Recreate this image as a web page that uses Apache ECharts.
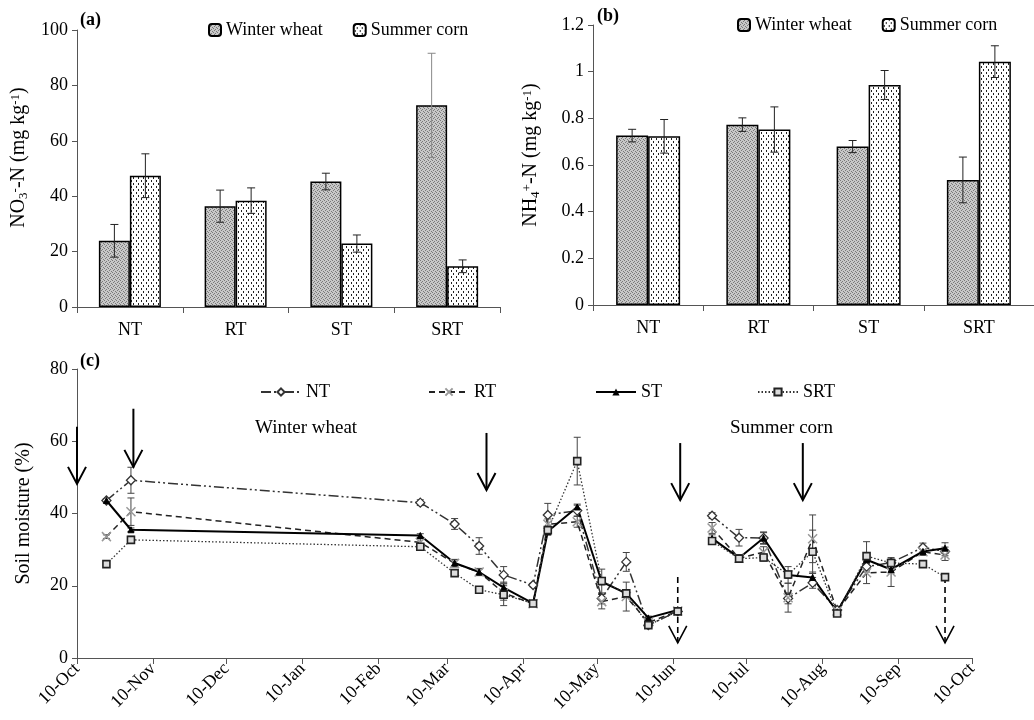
<!DOCTYPE html>
<html>
<head>
<meta charset="utf-8">
<title>Soil N and moisture</title>
<script src="https://cdn.jsdelivr.net/npm/echarts@6/dist/echarts.min.js"></script>
<style>
  html, body { margin: 0; padding: 0; background: #fff; }
  #main { width: 1034px; height: 720px; }
</style>
</head>
<body>
<div id="main"></div>
<script>
// ---- data (a), (b) ----
var treatments = ['NT', 'RT', 'ST', 'SRT'];
var no3Wheat = [23.9, 36.4, 45.3, 72.8];
var no3WheatErr = [5.9, 5.8, 3.0, 18.8];
var no3Corn = [47.4, 38.4, 22.9, 14.7];
var no3CornErr = [7.9, 4.6, 3.1, 2.3];
var nh4Wheat = [0.726, 0.773, 0.679, 0.536];
var nh4WheatErr = [0.027, 0.029, 0.026, 0.098];
var nh4Corn = [0.723, 0.752, 0.943, 1.043];
var nh4CornErr = [0.072, 0.097, 0.062, 0.068];

// ---- data (c): days counted from 10-Oct ----
var dateTickDays = [0, 31, 61, 92, 123, 151, 182, 212, 243, 273, 304, 335, 365];
var dateTickLabels = ['10-Oct', '10-Nov', '10-Dec', '10-Jan', '10-Feb', '10-Mar', '10-Apr',
  '10-May', '10-Jun', '10-Jul', '10-Aug', '10-Sep', '10-Oct'];
var sampleDays = [12, 22, 140, 154, 164, 174, 186, 192, 204, 214, 224, 233, 245,
  259, 270, 280, 290, 300, 310, 322, 332, 345, 354];
var wheatCount = 13; // first 13 samples = winter wheat, rest = summer corn
var moistNT  = [43.6, 49.2, 43.0, 37.1, 31.0, 23.0, 20.2, 39.6, 40.8, 16.5, 26.6, 9.1, 12.9,
  39.4, 33.3, 33.2, 16.5, 20.8, 13.3, 25.3, 26.4, 30.6, 29.5];
var moistRT  = [33.6, 40.5, 32.0, 26.2, 23.8, 18.0, 15.0, 37.0, 37.7, 15.6, 17.0, 9.8, 13.0,
  36.0, 27.6, 29.3, 16.7, 33.0, 13.0, 23.6, 23.8, 29.4, 28.5];
var moistST  = [43.6, 35.5, 33.9, 26.3, 23.8, 19.5, 15.1, 35.0, 41.8, 21.1, 17.9, 11.1, 13.3,
  33.1, 27.7, 33.2, 23.0, 22.3, 12.8, 27.2, 24.5, 29.5, 30.4];
var moistSRT = [26.0, 32.7, 30.8, 23.5, 18.9, 17.5, 15.1, 35.4, 54.5, 21.3, 17.9, 9.1, 12.9,
  32.4, 27.5, 27.8, 23.1, 29.4, 12.3, 28.2, 26.3, 26.0, 22.4];
var errNT  = [0.5, 3.6, 0.8, 1.5, 2.3, 2.3, 0.5, 3.2, 1.5, 1.5, 2.6, 0.8, 0.5,
  0.8, 2.3, 1.5, 1.5, 1.5, 1.0, 1.5, 1.0, 1.2, 1.2];
var errRT  = [0.5, 3.8, 1.0, 1.0, 1.0, 2.0, 0.5, 1.5, 1.5, 2.0, 4.0, 1.0, 0.5,
  1.5, 1.0, 1.5, 4.0, 6.6, 1.0, 3.0, 4.0, 1.0, 1.5];
var errST  = [0.5, 0.5, 0.5, 1.0, 0.8, 1.5, 0.5, 1.0, 0.8, 3.5, 1.0, 0.5, 0.5,
  1.0, 0.8, 1.7, 2.3, 1.5, 1.0, 1.0, 1.0, 1.0, 1.5];
var errSRT = [0.5, 1.0, 0.5, 0.6, 0.5, 3.0, 0.5, 1.0, 6.6, 1.0, 1.0, 0.5, 0.5,
  0.8, 1.0, 1.0, 1.0, 6.0, 0.8, 4.0, 1.0, 0.5, 0.5];

// arrows: [day, from, to]
var tillageArrows = [[0, 64, 48.2], [23, 69, 52.9], [167, 62.3, 46.5], [246, 59.5, 43.7], [296, 59.5, 43.7]];
var harvestArrows = [[245, 22.4, 4.2], [354, 22.4, 4.2]];

var FONT = 'Liberation Serif';

function makePattern(w, h, bg, fg, pts) {
  var c = document.createElement('canvas');
  c.width = w; c.height = h;
  var ctx = c.getContext('2d');
  ctx.fillStyle = bg;
  ctx.fillRect(0, 0, w, h);
  ctx.fillStyle = fg;
  pts.forEach(function (p) { ctx.fillRect(p[0], p[1], p[2], p[3]); });
  return c;
}
var wheatFill = { image: makePattern(4, 4, '#c8c8c8', '#7a7a7a', [[0, 0, 1, 1], [2, 1, 1, 1], [1, 2, 1, 1], [3, 3, 1, 1]]), repeat: 'repeat' };
var cornFill = { image: makePattern(5, 6, '#ffffff', '#222222', [[1, 0, 1, 2], [3, 3, 1, 2]]), repeat: 'repeat' };

function pairs(vals) {
  var out = [];
  for (var i = 0; i < vals.length; i++) {
    if (i === wheatCount) out.push([250, '-']);
    out.push([sampleDays[i], vals[i]]);
  }
  return out;
}
function errData(vals, errs) {
  return vals.map(function (v, i) { return [sampleDays[i], v, errs[i]]; });
}

// error bar drawer, dx = horizontal shift in px
function errRender(dx, half, color) {
  return function (params, api) {
    var x = api.value(0), v = api.value(1), e = api.value(2);
    var hi = api.coord([x, v + e]), lo = api.coord([x, v - e]);
    var cx = hi[0] + dx;
    var st = { stroke: color, lineWidth: 1 };
    return {
      type: 'group',
      children: [
        { type: 'line', shape: { x1: cx, y1: hi[1], x2: cx, y2: lo[1] }, style: st },
        { type: 'line', shape: { x1: cx - half, y1: hi[1], x2: cx + half, y2: hi[1] }, style: st },
        { type: 'line', shape: { x1: cx - half, y1: lo[1], x2: cx + half, y2: lo[1] }, style: st }
      ]
    };
  };
}
function arrowRender(dash, width) {
  return function (params, api) {
    var p1 = api.coord([api.value(0), api.value(1)]);
    var p2 = api.coord([api.value(0), api.value(2)]);
    var st = { stroke: '#000', lineWidth: width, fill: null, lineDash: dash };
    return {
      type: 'group',
      children: [
        { type: 'line', shape: { x1: p1[0], y1: p1[1], x2: p2[0], y2: p2[1] }, style: st },
        { type: 'polyline', shape: { points: [[p2[0] - 9, p2[1] - 17], [p2[0], p2[1]], [p2[0] + 9, p2[1] - 17]] },
          style: { stroke: '#000', lineWidth: width, fill: null } }
      ]
    };
  };
}

var txt = { fontFamily: FONT, fontSize: 18, color: '#000' };
var axisLine = { lineStyle: { color: '#555', width: 1 } };
var richName = {
  a: { fontFamily: FONT, fontSize: 20, color: '#000', lineHeight: 26, verticalAlign: 'middle' },
  sub: { fontFamily: FONT, fontSize: 13, color: '#000', lineHeight: 26, verticalAlign: 'bottom', padding: [0, 0, 2, 0] },
  sup: { fontFamily: FONT, fontSize: 13, color: '#000', lineHeight: 26, verticalAlign: 'top', padding: [3, 0, 0, 0] }
};

function catAxis(gi) {
  return {
    type: 'category', gridIndex: gi, data: treatments,
    axisLine: axisLine,
    axisTick: { show: true, length: 6, lineStyle: { color: '#555' } },
    axisLabel: Object.assign({ margin: 14 }, txt)
  };
}

var option = {
  animation: false,
  backgroundColor: '#fff',
  grid: [
    { left: 77, top: 30, right: 534, bottom: 413 },
    { left: 593, top: 25, right: -8, bottom: 415 },
    { left: 77, top: 369, right: 62, bottom: 62 }
  ],
  legend: [
    { data: ['Winter wheat', 'Summer corn'], left: 203, top: 16, itemWidth: 12, itemHeight: 12, itemGap: 30, textStyle: txt },
    { data: ['Winter wheat', 'Summer corn'], left: 732, top: 11, itemWidth: 12, itemHeight: 12, itemGap: 30, textStyle: txt },
    { data: ['NT'], left: 255, top: 378, itemWidth: 40, itemHeight: 9, textStyle: txt },
    { data: ['RT'], left: 423, top: 378, itemWidth: 40, itemHeight: 9, textStyle: txt },
    { data: ['ST'], left: 590, top: 378, itemWidth: 40, itemHeight: 9, textStyle: txt },
    { data: ['SRT'], left: 752, top: 378, itemWidth: 40, itemHeight: 9, textStyle: txt }
  ],
  xAxis: [
    catAxis(0),
    catAxis(1),
    {
      type: 'value', gridIndex: 2, min: 0, max: 365,
      splitLine: { show: false },
      axisLine: axisLine,
      axisTick: { show: true, length: 6, customValues: dateTickDays, lineStyle: { color: '#555' } },
      axisLabel: Object.assign({
        rotate: 45, margin: 8, customValues: dateTickDays,
        formatter: function (v) { return dateTickLabels[dateTickDays.indexOf(v)]; }
      }, txt)
    }
  ],
  yAxis: [
    {
      type: 'value', gridIndex: 0, min: 0, max: 100, interval: 20,
      splitLine: { show: false }, axisLine: { show: true, lineStyle: { color: '#555' } },
      axisTick: { show: true, length: 5, lineStyle: { color: '#555' } },
      axisLabel: Object.assign({ margin: 9 }, txt),
      name: '{a|NO}{sub|3}{sup|-}{a|-N (mg kg}{sup|-1}{a|)}',
      nameLocation: 'middle', nameGap: 45, nameRotate: 90,
      nameTextStyle: { rich: richName, padding: [0, 0, 0, 22] }
    },
    {
      type: 'value', gridIndex: 1, min: 0, max: 1.2, interval: 0.2,
      splitLine: { show: false }, axisLine: { show: true, lineStyle: { color: '#555' } },
      axisTick: { show: true, length: 5, lineStyle: { color: '#555' } },
      axisLabel: Object.assign({ margin: 9 }, txt),
      name: '{a|NH}{sub|4}{sup|+}{a|-N (mg kg}{sup|-1}{a|)}',
      nameLocation: 'middle', nameGap: 49, nameRotate: 90,
      nameTextStyle: { rich: richName, padding: [0, 0, 0, 20] }
    },
    {
      type: 'value', gridIndex: 2, min: 0, max: 80, interval: 20,
      splitLine: { show: false }, axisLine: { show: true, lineStyle: { color: '#555' } },
      axisTick: { show: true, length: 5, lineStyle: { color: '#555' } },
      axisLabel: Object.assign({ margin: 9 }, txt),
      name: 'Soil moisture (%)',
      nameLocation: 'middle', nameGap: 43, nameRotate: 90,
      nameTextStyle: { fontFamily: FONT, fontSize: 20, color: '#000' }
    }
  ],
  graphic: [
    { type: 'text', left: 80, top: 11, style: { text: '(a)', fontFamily: FONT, fontSize: 18, fontWeight: 'bold', fill: '#000' } },
    { type: 'text', left: 597, top: 7, style: { text: '(b)', fontFamily: FONT, fontSize: 18, fontWeight: 'bold', fill: '#000' } },
    { type: 'text', left: 80, top: 352, style: { text: '(c)', fontFamily: FONT, fontSize: 18, fontWeight: 'bold', fill: '#000' } },
    { type: 'text', left: 255, top: 419, style: { text: 'Winter wheat', fontFamily: FONT, fontSize: 19, fill: '#000' } },
    { type: 'text', left: 730, top: 419, style: { text: 'Summer corn', fontFamily: FONT, fontSize: 19, fill: '#000' } }
  ],
  series: [
    // (a)
    { name: 'Winter wheat', type: 'bar', xAxisIndex: 0, yAxisIndex: 0, data: no3Wheat, barWidth: 31, barGap: '0%',
      itemStyle: { color: wheatFill, borderColor: '#000', borderWidth: 1.5 } },
    { name: 'Summer corn', type: 'bar', xAxisIndex: 0, yAxisIndex: 0, data: no3Corn, barWidth: 31, barGap: '0%',
      itemStyle: { color: cornFill, borderColor: '#000', borderWidth: 1.5 } },
    { type: 'custom', name: 'errA1', xAxisIndex: 0, yAxisIndex: 0, z: 5,
      data: no3Wheat.map(function (v, i) { return [i, v, no3WheatErr[i]]; }),
      renderItem: function (p, api) { return errRender(-15.5, 4, api.value(0) === 3 ? '#888' : '#222')(p, api); } },
    { type: 'custom', name: 'errA2', xAxisIndex: 0, yAxisIndex: 0, z: 5,
      data: no3Corn.map(function (v, i) { return [i, v, no3CornErr[i]]; }),
      renderItem: errRender(15.5, 4, '#222') },
    // (b)
    { name: 'Winter wheat', type: 'bar', xAxisIndex: 1, yAxisIndex: 1, data: nh4Wheat, barWidth: 32, barGap: '0%',
      itemStyle: { color: wheatFill, borderColor: '#000', borderWidth: 1.5 } },
    { name: 'Summer corn', type: 'bar', xAxisIndex: 1, yAxisIndex: 1, data: nh4Corn, barWidth: 32, barGap: '0%',
      itemStyle: { color: cornFill, borderColor: '#000', borderWidth: 1.5 } },
    { type: 'custom', name: 'errB1', xAxisIndex: 1, yAxisIndex: 1, z: 5,
      data: nh4Wheat.map(function (v, i) { return [i, v, nh4WheatErr[i]]; }),
      renderItem: errRender(-16, 4, '#222') },
    { type: 'custom', name: 'errB2', xAxisIndex: 1, yAxisIndex: 1, z: 5,
      data: nh4Corn.map(function (v, i) { return [i, v, nh4CornErr[i]]; }),
      renderItem: errRender(16, 4, '#222') },
    // (c) error bars
    { type: 'custom', name: 'eNT', xAxisIndex: 2, yAxisIndex: 2, data: errData(moistNT, errNT), renderItem: errRender(0, 3.5, '#444') },
    { type: 'custom', name: 'eRT', xAxisIndex: 2, yAxisIndex: 2, data: errData(moistRT, errRT), renderItem: errRender(0, 3.5, '#444') },
    { type: 'custom', name: 'eST', xAxisIndex: 2, yAxisIndex: 2, data: errData(moistST, errST), renderItem: errRender(0, 3.5, '#444') },
    { type: 'custom', name: 'eSRT', xAxisIndex: 2, yAxisIndex: 2, data: errData(moistSRT, errSRT), renderItem: errRender(0, 3.5, '#444') },
    // (c) lines
    { name: 'NT', type: 'line', xAxisIndex: 2, yAxisIndex: 2, data: pairs(moistNT),
      symbol: 'diamond', symbolSize: 9,
      lineStyle: { color: '#333', width: 1.5, type: [10, 3, 2, 3, 2, 3] },
      itemStyle: { color: '#fff', borderColor: '#333', borderWidth: 1.3 } },
    { name: 'RT', type: 'line', xAxisIndex: 2, yAxisIndex: 2, data: pairs(moistRT),
      symbol: 'path://M0,0L10,10M10,0L0,10', symbolSize: 9,
      lineStyle: { color: '#222', width: 1.5, type: [6, 4] },
      itemStyle: { color: 'none', borderColor: '#999', borderWidth: 1.5 } },
    { name: 'ST', type: 'line', xAxisIndex: 2, yAxisIndex: 2, data: pairs(moistST),
      symbol: 'triangle', symbolSize: 6,
      lineStyle: { color: '#000', width: 2 },
      itemStyle: { color: '#000', borderColor: '#000' } },
    { name: 'SRT', type: 'line', xAxisIndex: 2, yAxisIndex: 2, data: pairs(moistSRT),
      symbol: 'rect', symbolSize: 7,
      lineStyle: { color: '#333', width: 1.3, type: [1.5, 2] },
      itemStyle: { color: '#ddd', borderColor: '#222', borderWidth: 1.6 } },
    // arrows
    { type: 'custom', name: 'arrows', xAxisIndex: 2, yAxisIndex: 2, data: tillageArrows, clip: false,
      renderItem: arrowRender(null, 2) },
    { type: 'custom', name: 'harvest', xAxisIndex: 2, yAxisIndex: 2, data: harvestArrows, clip: false,
      renderItem: arrowRender([6, 4], 1.6) }
  ]
};

var myChart = echarts.init(document.getElementById('main'));
myChart.setOption(option);
window.onresize = function () { myChart.resize(); };
</script>
</body>
</html>
